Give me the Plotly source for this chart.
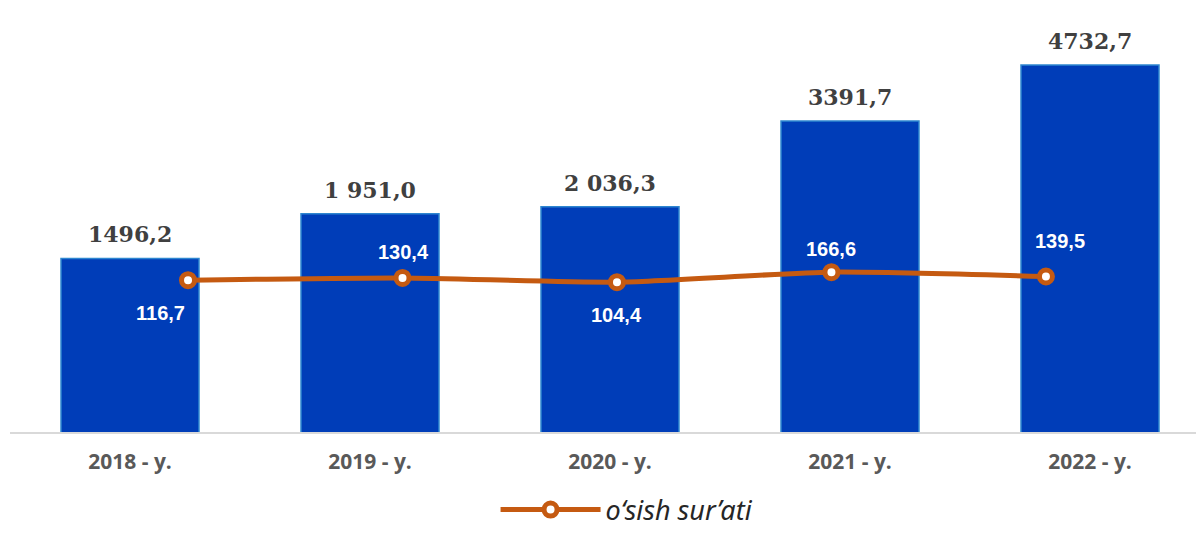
import numpy as np
import plotly.graph_objects as go

# ---- data ----
categories = ["2018 - y.", "2019 - y.", "2020 - y.", "2021 - y.", "2022 - y."]
volume = [1496.2, 1951.0, 2036.3, 3391.7, 4732.7]
volume_labels = ["1496,2", "1 951,0", "2 036,3", "3391,7", "4732,7"]
growth = [116.7, 130.4, 104.4, 166.6, 139.5]
growth_labels = ["116,7", "130,4", "104,4", "166,6", "139,5"]
series_name = "o‘sish sur’ati"

# ---- label offsets (styling) ----
g_xshift = [-28, 1, 0, 0, 14]
g_yshift = [-33, 26, -33, 23, 36]

BAR = "#003DB8"
LINE = "#C55A11"

fig = go.Figure()
fig.add_trace(go.Bar(
    x=categories, y=volume, xaxis="x", yaxis="y",
    marker=dict(color=BAR, line=dict(color="#2E86D0", width=1.5)),
    showlegend=False, hoverinfo="skip",
))
fig.add_trace(go.Scatter(
    x=categories, y=growth, xaxis="x2", yaxis="y2",
    mode="lines+markers", name=series_name,
    line=dict(color=LINE, width=5, shape="spline", smoothing=0.6),
    marker=dict(symbol="circle", size=13, color="white", line=dict(color=LINE, width=5)),
))

ann = []
for c, v, t in zip(categories, volume, volume_labels):
    ann.append(dict(x=c, y=np.log10(v), xref="x", yref="y", text=t, showarrow=False,
                    yanchor="bottom", yshift=9,
                    font=dict(family="DejaVu Serif", size=22, color="#404040", weight="bold")))
for c, v, t, dx, dy in zip(categories, growth, growth_labels, g_xshift, g_yshift):
    ann.append(dict(x=c, y=v, xref="x2", yref="y2", text=t, showarrow=False,
                    xshift=dx, yshift=dy, yanchor="middle",
                    font=dict(family="Liberation Sans", size=20, color="white", weight="bold")))

fig.update_layout(
    width=1196, height=524,
    margin=dict(l=2, r=0, t=0, b=100, autoexpand=False),
    paper_bgcolor="white", plot_bgcolor="white",
    bargap=0.425,
    annotations=ann,
    xaxis=dict(type="category", range=[-0.5, 4.475], showline=True, linecolor="#D9D9D9",
               linewidth=2, showgrid=False, ticks="", ticklabelstandoff=10, automargin=False,
               tickfont=dict(family="Open Sans", size=21, color="#595959", weight="bold")),
    xaxis2=dict(type="category", overlaying="x", range=[-0.83, 4.737], visible=False),
    yaxis=dict(type="log", range=[2.7265, 3.8221], visible=False, showgrid=False),
    yaxis2=dict(overlaying="y", range=[-825, 1805], visible=False, showgrid=False),
    legend=dict(orientation="h", x=0.5168, xanchor="center", y=-0.184, yanchor="middle",
                font=dict(family="Noto Sans", size=27, color="#262626", style="italic"),
                itemwidth=100),
)

fig.write_html("out.html")
